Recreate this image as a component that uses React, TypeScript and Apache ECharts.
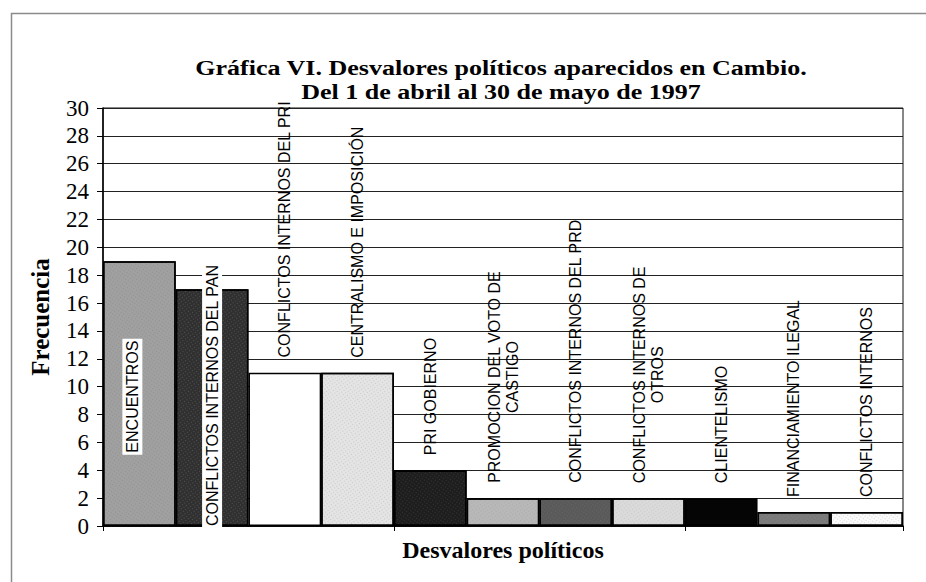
import React, { useEffect, useRef } from "react";
import * as echarts from "echarts";

const titleLines = [
  "Gráfica VI. Desvalores políticos aparecidos en Cambio.",
  "Del 1 de abril al 30 de mayo de 1997",
];
const yAxisName = "Frecuencia";
const xAxisName = "Desvalores políticos";

const categories = [
  "ENCUENTROS",
  "CONFLICTOS INTERNOS DEL PAN",
  "CONFLICTOS INTERNOS DEL PRI",
  "CENTRALISMO E IMPOSICIÓN",
  "PRI GOBIERNO",
  "PROMOCION DEL VOTO DE\nCASTIGO",
  "CONFLICTOS INTERNOS DEL PRD",
  "CONFLICTOS INTERNOS DE\nOTROS",
  "CLIENTELISMO",
  "FINANCIAMIENTO ILEGAL",
  "CONFLICTOS INTERNOS",
];
const values = [19, 17, 11, 11, 4, 2, 2, 2, 2, 1, 1];

const barColors = [
  "#a0a0a0",
  "#303030",
  "#ffffff",
  "#e4e4e4",
  "#1e1e1e",
  "#b8b8b8",
  "#5a5a5a",
  "#dadada",
  "#050505",
  "#7c7c7c",
  "#fafafa",
];
// speckle colour for the scanned fill textures (null = plain fill)
const speckleColors = [
  "rgba(70,70,70,0.6)",
  "rgba(255,255,255,0.55)",
  null,
  "rgba(60,60,60,0.55)",
  "rgba(255,255,255,0.35)",
  "rgba(90,90,90,0.5)",
  "rgba(180,180,180,0.45)",
  "rgba(90,90,90,0.45)",
  null,
  "rgba(40,40,40,0.5)",
  "rgba(60,60,60,0.6)",
];

// labels drawn inside their bar (white box); offsets are in the rotated frame
const insideLabelOffsets: Record<number, [number, number]> = {
  0: [-3, -7],
  1: [12, 0],
};

const richFormatter = (p: any) =>
  String(p.name)
    .split("\n")
    .map((l: string) => `{c|${l}}`)
    .join("\n");

export default function App() {
  const ref = useRef<HTMLDivElement>(null);
  useEffect(() => {
    if (!ref.current) return;
    const chart = echarts.init(ref.current, undefined, { renderer: "svg" });
    const serif = "Liberation Serif, Times New Roman, serif";
    const labelFont = {
      fontFamily: "Liberation Sans, Arial, sans-serif",
      fontSize: 16,
      color: "#000",
    };
    const data = values.map((v, i) => {
      const sc = speckleColors[i];
      const item: any = {
        value: v,
        name: categories[i],
        itemStyle: {
          color: barColors[i],
          decal: sc
            ? {
                symbol: "rect",
                symbolSize: 0.6,
                color: sc,
                dashArrayX: [1, 2],
                dashArrayY: [1, 2],
                rotation: i % 2 === 0 ? 0.6 : -0.6,
              }
            : "none",
        },
      };
      if (insideLabelOffsets[i]) {
        item.label = {
          position: "inside",
          align: "center",
          verticalAlign: "middle",
          offset: insideLabelOffsets[i],
          backgroundColor: "#fff",
          padding: [1, 2, 1, 2],
        };
      }
      return item;
    });
    const titleText = (text: string, y: number) => ({
      type: "text",
      x: 501,
      y,
      scaleX: 1.24,
      silent: true,
      style: {
        text,
        fill: "#000",
        fontFamily: serif,
        fontWeight: "bold",
        fontSize: 21,
        align: "center",
        textAlign: "center",
        verticalAlign: "middle",
        textVerticalAlign: "middle",
      },
    });
    chart.setOption({
      animation: false,
      backgroundColor: "#fff",
      aria: { enabled: false, decal: { show: true } },
      graphic: [
        {
          type: "rect",
          left: 9,
          top: 11,
          shape: { width: 1200, height: 1200 },
          style: { fill: "none", stroke: "#8a8a8a", lineWidth: 1.5 },
          silent: true,
          z: -1,
        },
        titleText(titleLines[0], 68),
        titleText(titleLines[1], 92),
      ],
      grid: {
        left: 103,
        right: 23,
        top: 108,
        bottom: 56,
        show: true,
        borderColor: "#111",
        borderWidth: 1,
        backgroundColor: "transparent",
      },
      xAxis: {
        type: "category",
        data: categories,
        boundaryGap: true,
        axisLine: { show: true, lineStyle: { color: "#000", width: 1.5 } },
        axisTick: { show: true, length: 5, lineStyle: { color: "#000" } },
        axisLabel: { show: false },
        name: xAxisName,
        nameLocation: "middle",
        nameGap: 12,
        nameTextStyle: {
          fontFamily: serif,
          fontWeight: "bold",
          fontSize: 24,
          color: "#000",
        },
      },
      yAxis: {
        type: "value",
        min: 0,
        max: 30,
        interval: 2,
        axisLine: { show: true, lineStyle: { color: "#000", width: 1.5 } },
        axisTick: { show: true, length: 6, lineStyle: { color: "#000" } },
        axisLabel: {
          margin: 14,
          fontFamily: serif,
          fontSize: 23,
          color: "#000",
        },
        splitLine: { show: true, lineStyle: { color: "#222", width: 1 } },
        name: yAxisName,
        nameLocation: "middle",
        nameGap: 50,
        nameTextStyle: {
          fontFamily: serif,
          fontWeight: "bold",
          fontSize: 25,
          color: "#000",
        },
      },
      series: [
        {
          type: "bar",
          data,
          barCategoryGap: 0,
          barWidth: "100%",
          itemStyle: { borderColor: "#000", borderWidth: 1.5 },
          label: {
            show: true,
            position: "top",
            distance: 15,
            rotate: 90,
            align: "left",
            verticalAlign: "middle",
            formatter: richFormatter,
            ...labelFont,
            rich: {
              c: { ...labelFont, align: "center", lineHeight: 18 },
            },
          },
        },
      ],
    });
    return () => chart.dispose();
  }, []);
  return (
    <div
      ref={ref}
      style={{ position: "absolute", left: 0, top: 0, width: 926, height: 582, background: "#fff" }}
    />
  );
}
